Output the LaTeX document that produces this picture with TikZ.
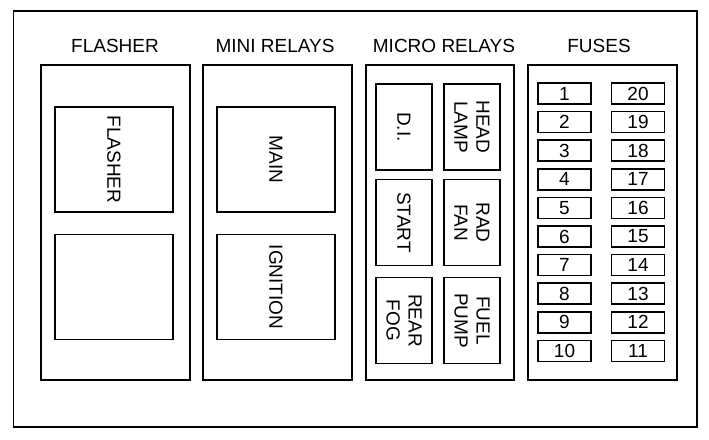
\documentclass[tikz,border=0pt]{standalone}
\usepackage{fontspec}
\setmainfont{Liberation Sans}

\begin{document}
\begin{tikzpicture}[x=1pt, y=-1pt, line width=1.5pt,
    heading/.style={font=\fontsize{19}{22}\selectfont, inner sep=0pt},
    bigrelay/.style={draw, rotate=-90, minimum width=105pt, minimum height=118pt, inner sep=0pt,
        align=center, font=\fontsize{19}{22}\selectfont},
    relay/.style={draw, rotate=-90, minimum width=86pt, minimum height=56pt, inner sep=0pt,
        align=center, font=\fontsize{19}{22}\selectfont},
    fuse/.style={draw, minimum width=53pt, minimum height=21pt, inner sep=0pt,
        font=\fontsize{19}{22}\selectfont}]
    \useasboundingbox (0,0) rectangle (709,439);

    % === Outer frame ===
    \draw (13.5,11) rectangle (697,427);

    % === Headings ===
    \node[heading] (hFlasher) at (115,45.5) {FLASHER};
    \node[heading] (hMini) at (275,45.5) {MINI RELAYS};
    \node[heading] (hMicro) at (444,45.5) {MICRO RELAYS};
    \node[heading] (hFuses) at (599,45.5) {FUSES};

    % === Section boxes ===
    \draw (41,65) rectangle (190,380);
    \draw (203,65) rectangle (352,380);
    \draw (366,65) rectangle (514,380);
    \draw (528,65) rectangle (677,380);

    % Flasher
    \node[bigrelay] (flasher) at (114,159.5) {FLASHER};
    \node[bigrelay] (spare) at (114,287) {};

    % Mini relays
    \node[bigrelay] (main) at (276,159.5) {MAIN};
    \node[bigrelay] (ignition) at (276,287) {IGNITION};

    % Micro relays
    \node[relay] (di) at (404,127) {D.I.};
    \node[relay] (headlamp) at (472,127) {HEAD\\LAMP};
    \node[relay] (start) at (404,222.5) {START};
    \node[relay] (radfan) at (472,222.5) {RAD\\FAN};
    \node[relay] (rearfog) at (404,320.5) {REAR\\FOG};
    \node[relay] (fuelpump) at (472,320.5) {FUEL\\PUMP};

    % === Fuses ===
    \foreach \i [evaluate=\i as \j using int(21-\i)] in {1,...,10} {
        \node[fuse] (f\i) at (564.5, 93.5+28.6*\i-28.6) {\i};
        \node[fuse] (f\j) at (638, 93.5+28.6*\i-28.6) {\j};
    }
\end{tikzpicture}
\end{document}
